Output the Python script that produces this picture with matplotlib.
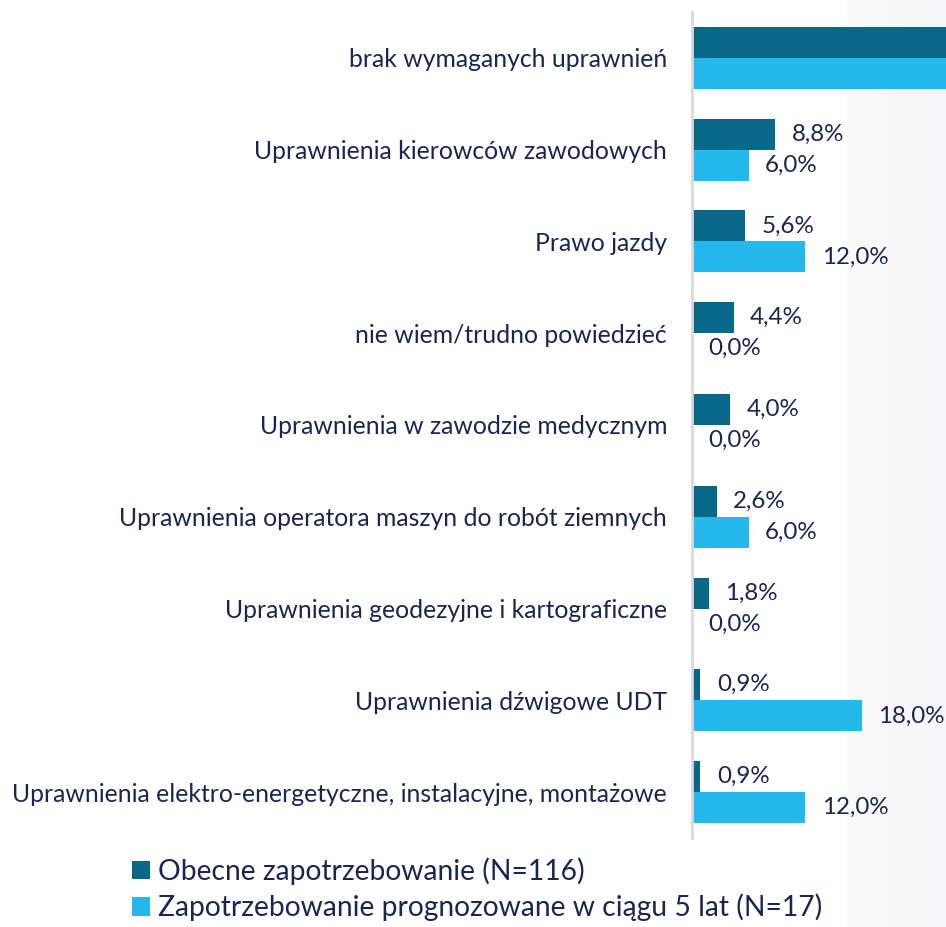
import matplotlib
matplotlib.use("Agg")
import matplotlib.pyplot as plt
import numpy as np
from matplotlib.colors import LinearSegmentedColormap

plt.rcParams['font.family'] = ['Lato', 'DejaVu Sans']

# data
categories = [
    "brak wymaganych uprawnień",
    "Uprawnienia kierowców zawodowych",
    "Prawo jazdy",
    "nie wiem/trudno powiedzieć",
    "Uprawnienia w zawodzie medycznym",
    "Uprawnienia operatora maszyn do robót ziemnych",
    "Uprawnienia geodezyjne i kartograficzne",
    "Uprawnienia dźwigowe UDT",
    "Uprawnienia elektro-energetyczne, instalacyjne, montażowe",
]
current = [60.0, 8.8, 5.6, 4.4, 4.0, 2.6, 1.8, 0.9, 0.9]
forecast = [55.0, 6.0, 12.0, 0.0, 0.0, 6.0, 0.0, 18.0, 12.0]
series_names = ["Obecne zapotrzebowanie (N=116)",
                "Zapotrzebowanie prognozowane w ciągu 5 lat (N=17)"]

dark = "#07688A"
light = "#25B8EC"
text_col = "#1B2650"

fig = plt.figure(figsize=(9.46, 9.27), dpi=100)

# light gray band on the right
bg = fig.add_axes([847 / 946, 0, 1 - 847 / 946, 1], zorder=-5)
grad = np.linspace(0, 1, 100).reshape(1, -1)
cmap = LinearSegmentedColormap.from_list("g", ["#FBFBFC", "#F6F6F8"])
bg.imshow(grad, aspect="auto", cmap=cmap, extent=[0, 1, 0, 1])
bg.axis("off")

ax = fig.add_axes([692 / 946, 1 - 838 / 927, 1 - 692 / 946, (838 - 12) / 927])
ax.patch.set_alpha(0)

n = len(categories)
y = np.arange(n)
h = 0.338
ax.barh(y - h / 2, current, height=h, color=dark, label=series_names[0])
ax.barh(y + h / 2, forecast, height=h, color=light, label=series_names[1])

xmax = 26.9
ax.set_xlim(0, xmax)
ax.set_ylim(n - 0.5, -0.5)

for i in range(n):
    if current[i] < xmax:
        ax.text(current[i] + 1.75, y[i] - h / 2, f"{current[i]:.1f}".replace(".", ",") + "%",
                va="center", ha="left", fontsize=17.4, color=text_col)
    if forecast[i] < xmax:
        ax.text(forecast[i] + 1.75, y[i] + h / 2, f"{forecast[i]:.1f}".replace(".", ",") + "%",
                va="center", ha="left", fontsize=17.4, color=text_col)

ax.set_yticks(y)
ax.set_yticklabels(categories, fontsize=17.8, color=text_col)
ax.tick_params(axis="y", length=0, pad=18)
ax.set_xticks([])
for s in ["top", "right", "bottom"]:
    ax.spines[s].set_visible(False)
ax.spines["left"].set_color("#D9D9D9")
ax.spines["left"].set_linewidth(2)

fig.legend(loc="upper left", bbox_to_anchor=(118 / 946, 1 - 843 / 927),
           frameon=False, fontsize=20.3, handlelength=0.62, handleheight=0.62,
           handletextpad=0.3, labelspacing=0.32, borderpad=0, labelcolor=text_col)

fig.savefig("out.png", dpi=100)
